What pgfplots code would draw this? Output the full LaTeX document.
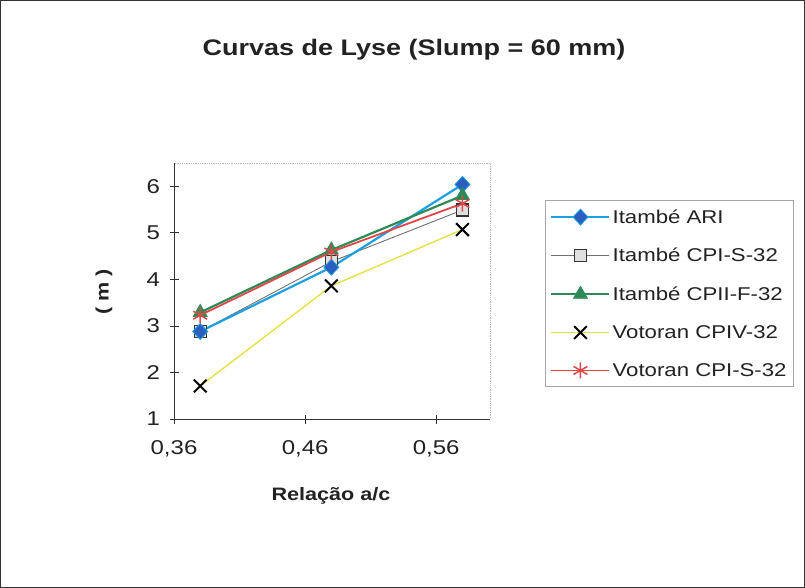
\documentclass[border=0pt]{standalone}
\usepackage{pgfplots}
\pgfplotsset{compat=1.18}
\usepackage{fontspec}
\setmainfont[FakeStretch=1.2]{Liberation Sans}
\definecolor{txt}{HTML}{222222}
\definecolor{cblue}{HTML}{1EA0E0}
\definecolor{cbluem}{HTML}{2A5FC0}
\definecolor{cgrey}{HTML}{707070}
\definecolor{cgreen}{HTML}{2E8B57}
\definecolor{cyellow}{HTML}{E6DF3A}
\definecolor{cred}{HTML}{E04848}
\pgfplotsset{
  sA/.style={cblue, line width=2.2bp, mark=diamond*, mark size=8bp, mark options={fill=cbluem, draw=cblue, line width=0.8bp, xscale=1.25}},
  sB/.style={cgrey, line width=0.9bp, mark=square*, mark size=6bp, mark options={fill=gray!25, draw=black!80, line width=1.3bp}},
  sC/.style={cgreen, line width=2.2bp, mark=triangle*, mark size=8bp, mark options={fill=cgreen, line width=0.8bp}},
  sD/.style={cyellow, line width=1.3bp, mark=x, mark size=9bp, mark options={black, line width=2bp}},
  sE/.style={cred, line width=1.8bp, mark=asterisk, mark size=8bp, mark options={cred, line width=1.5bp}},
}
\begin{document}
\begin{tikzpicture}
\draw[line width=1.2bp, black!80] (0.6bp,-0.6bp) rectangle (804.4bp,-587.4bp);
\node[font=\fontsize{22.5bp}{25bp}\selectfont\bfseries, text=txt] at (414bp,-50bp) {Curvas de Lyse (Slump = 60 mm)};
\node[font=\fontsize{18bp}{20bp}\selectfont\bfseries, text=txt, rotate=90] at (104bp,-292bp) {( m )};
\node[font=\fontsize{18bp}{20bp}\selectfont\bfseries, text=txt] at (331bp,-496bp) {Relação a/c};
\begin{axis}[
  at={(174bp,-419bp)}, anchor=south west,
  scale only axis, width=316bp, height=256bp,
  xmin=0.36, xmax=0.601, ymin=1, ymax=6.5,
  xtick={0.36,0.46,0.56}, xticklabels={{0,36},{0,46},{0,56}},
  ytick={1,2,3,4,5,6},
  xtick pos=bottom, ytick pos=left, tick align=center,
  major tick length=9bp,
  tick style={black!80, line width=0.8bp},
  axis line style={draw=gray!55, densely dotted, line width=0.8bp},
  ticklabel style={font=\fontsize{20bp}{22bp}\selectfont, text=txt},
  xticklabel style={yshift=-14bp},
  yticklabel style={/pgf/number format/assume math mode=true, xshift=-6bp},
  legend style={at={(1.174,0.855)}, anchor=north west, draw=gray!70, line width=0.8bp,
    font=\fontsize{18.5bp}{21bp}\selectfont, text=txt, row sep=19.5bp, inner xsep=5bp, inner ysep=7bp},
  legend cell align=left,
  legend image code/.code={\draw[mark repeat=2,mark phase=2] plot coordinates {(0bp,0bp) (29bp,0bp) (58bp,0bp)};},
]
\draw[black!80, line width=1bp] (rel axis cs:0,1) -- (rel axis cs:0,0) -- (rel axis cs:1,0);
\addplot[sD, forget plot] coordinates {(0.38,1.71) (0.48,3.86) (0.58,5.07)};
\addplot[sB, forget plot] coordinates {(0.38,2.88) (0.48,4.38) (0.58,5.49)};
\addplot[sA, forget plot] coordinates {(0.38,2.88) (0.48,4.26) (0.58,6.04)};
\addplot[sC, forget plot] coordinates {(0.38,3.29) (0.48,4.63) (0.58,5.80)};
\addplot[sE, forget plot] coordinates {(0.38,3.23) (0.48,4.59) (0.58,5.63)};
\addlegendimage{sA}
\addlegendentry{Itambé ARI}
\addlegendimage{sB}
\addlegendentry{Itambé CPI-S-32}
\addlegendimage{sC}
\addlegendentry{Itambé CPII-F-32}
\addlegendimage{sD}
\addlegendentry{Votoran CPIV-32}
\addlegendimage{sE}
\addlegendentry{Votoran CPI-S-32}
\end{axis}
\end{tikzpicture}
\end{document}
